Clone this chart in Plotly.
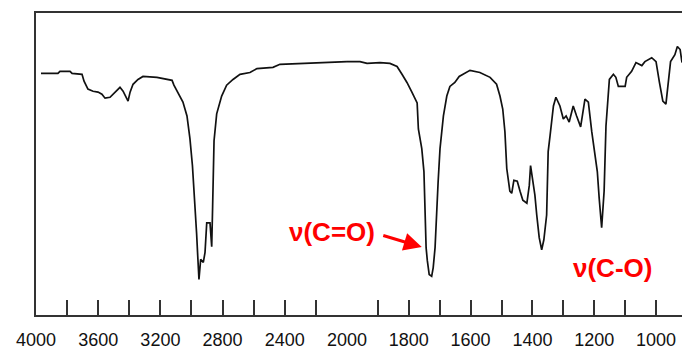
import plotly.graph_objects as go

# IR spectrum: wavenumber (cm-1) and transmittance (%)
wavenumber = [
    3968, 3859, 3846, 3781, 3768, 3704, 3691, 3666, 3633, 3601, 3576, 3556,
    3524, 3492, 3460, 3440, 3408, 3395, 3376, 3344, 3312, 3222, 3125, 3113,
    3055, 3029, 3010, 2994, 2977, 2967, 2960, 2952, 2941, 2924, 2913, 2902,
    2881, 2870, 2864, 2855, 2838, 2806, 2774, 2733, 2688, 2624, 2579, 2476,
    2431, 2302, 2219, 2090, 2000,
    1958, 1935, 1893, 1861, 1838, 1822, 1806, 1790, 1773, 1769, 1758, 1751,
    1748, 1744, 1740, 1734, 1726, 1721, 1715, 1710, 1705, 1699, 1688, 1677,
    1667, 1651, 1637, 1602, 1570, 1537, 1516, 1505, 1496, 1489, 1483, 1473,
    1467, 1460, 1449, 1440, 1431, 1418, 1410, 1406, 1399, 1392, 1386, 1378,
    1370, 1363, 1354, 1349, 1343, 1332, 1324, 1311, 1300, 1291, 1281, 1268,
    1257, 1244, 1230, 1219, 1208, 1197, 1190, 1184, 1176, 1168, 1162, 1151,
    1138, 1130, 1122, 1100, 1095, 1079, 1065, 1046, 1036, 1014, 1000, 989,
    978, 968, 960, 953, 939, 931, 922, 916,
]
transmittance = [
    80.0, 80.0, 80.7, 80.7, 80.0, 79.7, 77.4, 74.8, 74.1, 73.8, 73.1, 71.8,
    72.1, 73.8, 75.4, 74.1, 70.8, 73.8, 76.4, 78.0, 79.0, 78.7, 77.7, 76.1,
    70.5, 65.9, 58.4, 49.5, 37.0, 26.9, 19.7, 11.8, 18.4, 17.4, 20.7, 30.5,
    30.5, 22.6, 36.1, 57.7, 66.6, 72.5, 76.1, 78.0, 79.7, 80.3, 81.6, 82.0,
    83.0, 83.3, 83.6, 83.9, 83.9,
    83.9, 83.3, 83.6, 83.3, 82.3, 79.7, 77.0, 73.8, 70.2, 61.6, 55.1, 47.5,
    35.4, 22.3, 18.0, 13.4, 12.8, 15.7, 22.3, 35.4, 44.3, 55.1, 65.9, 72.5,
    75.7, 77.0, 79.0, 81.0, 80.3, 78.7, 76.4, 72.5, 68.2, 60.7, 48.5, 41.0,
    40.3, 44.6, 44.3, 41.0, 38.0, 37.0, 43.0, 49.5, 44.6, 39.7, 33.1, 25.6,
    21.6, 24.9, 33.1, 54.1, 59.3, 69.2, 72.1, 69.2, 64.9, 65.9, 63.9, 69.2,
    65.9, 62.3, 71.5, 70.5, 60.7, 52.8, 47.5, 38.7, 28.9, 41.0, 62.6, 78.0,
    79.7, 78.7, 75.7, 75.7, 78.7, 80.7, 83.6, 82.6, 83.9, 85.2, 83.9, 77.0,
    70.8, 69.8, 78.0, 83.9, 86.2, 88.9, 87.9, 83.6,
]

# Axis scale changes at 2000 cm-1 (200 per tick above, 100 per tick below)
BREAK = 2000
ticks_high = [4000, 3800, 3600, 3400, 3200, 3000, 2800, 2600, 2400, 2200]
labels_high = ["4000", "", "3600", "", "3200", "", "2800", "", "2400", ""]
ticks_low = [2000, 1900, 1800, 1700, 1600, 1500, 1400, 1300, 1200, 1100, 1000]
labels_low = ["2000", "", "1800", "", "1600", "", "1400", "", "1200", "", "1000"]

# Band assignments
band_labels = ["ν(C=O)", "ν(C-O)"]

hi_x = [w for w in wavenumber if w >= BREAK]
hi_y = [t for w, t in zip(wavenumber, transmittance) if w >= BREAK]
lo_x = [w for w in wavenumber if w <= BREAK]
lo_y = [t for w, t in zip(wavenumber, transmittance) if w <= BREAK]

line_style = dict(color="#111111", width=1.7)
fig = go.Figure()
fig.add_trace(go.Scatter(x=hi_x, y=hi_y, mode="lines", line=line_style,
                         xaxis="x", yaxis="y", showlegend=False))
fig.add_trace(go.Scatter(x=lo_x, y=lo_y, mode="lines", line=line_style,
                         xaxis="x2", yaxis="y", showlegend=False))

split = 0.4814
axis_common = dict(
    showline=True, linecolor="#333333", linewidth=2, mirror=True,
    ticks="inside", ticklen=15, tickwidth=1.5, tickcolor="#333333",
    showgrid=False, zeroline=False, ticklabelstandoff=7,
    tickfont=dict(family="Liberation Sans, Arial, sans-serif", size=18, color="#111111"),
)

fig.update_layout(
    width=682, height=350,
    margin=dict(l=36, r=0, t=13, b=32),
    paper_bgcolor="white", plot_bgcolor="white",
    xaxis=dict(domain=[0, split], range=[4000, BREAK], tickmode="array",
               tickvals=ticks_high, ticktext=labels_high, anchor="y", **axis_common),
    xaxis2=dict(domain=[split, 1], range=[BREAK, 916], tickmode="array",
                tickvals=ticks_low, ticktext=labels_low, anchor="y", **axis_common),
    yaxis=dict(range=[0, 100], showline=True, linecolor="#333333", linewidth=2,
               showticklabels=False, ticks="", showgrid=False, zeroline=False),
)

red_font = dict(family="Liberation Sans, Arial, sans-serif", size=26, color="#ff0000")
fig.add_annotation(x=2096, y=27.5, xref="x", yref="y", text="<b>" + band_labels[0] + "</b>",
                   showarrow=False, font=red_font)
fig.add_annotation(x=1141, y=15.7, xref="x2", yref="y", text="<b>" + band_labels[1] + "</b>",
                   showarrow=False, font=red_font)
# Arrow pointing at the carbonyl band
fig.add_annotation(x=1758, y=22.5, xref="x2", yref="y", text="", showarrow=True,
                   ax=-40, ay=-12, arrowhead=2, arrowsize=1.2, arrowwidth=3,
                   arrowcolor="#ff0000")

fig.write_html("out.html")
